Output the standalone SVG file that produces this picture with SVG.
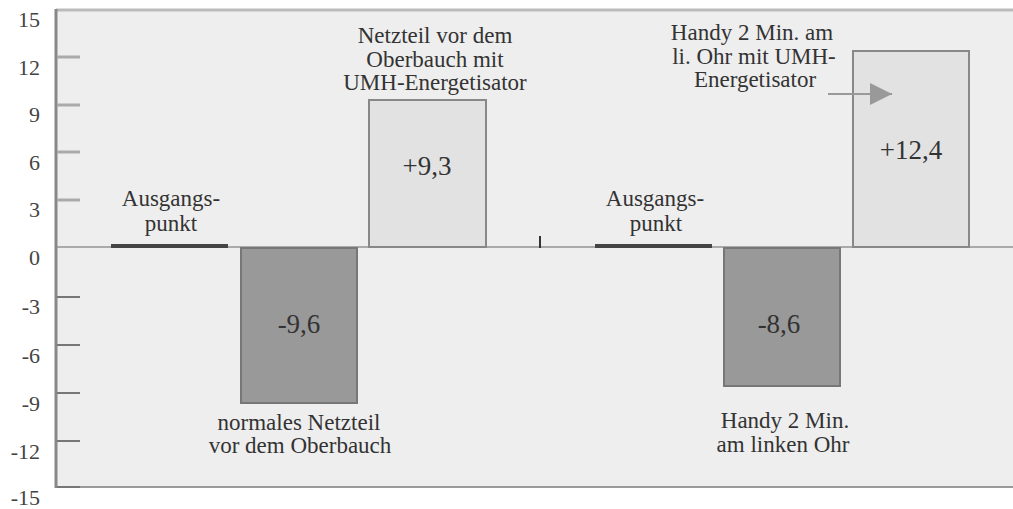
<svg xmlns="http://www.w3.org/2000/svg" width="1013" height="509" viewBox="0 0 1013 509" font-family="Times New Roman, Liberation Serif, serif">
<defs>
<marker id="ah" viewBox="0 0 10 10" refX="10" refY="5" markerWidth="22" markerHeight="22" markerUnits="userSpaceOnUse" orient="auto">
<path d="M0,0 L10,5 L0,10 z" fill="#999"/>
</marker>
</defs>
<rect x="0" y="0" width="1013" height="509" fill="#fff"/>
<g id="plot">
<rect x="56" y="10" width="957" height="477" fill="#eeeeee"/>
<line x1="56" y1="10" x2="1013" y2="10" stroke="#bbb" stroke-width="3"/>
<line x1="56" y1="487" x2="1013" y2="487" stroke="#999" stroke-width="2"/>
<line x1="56" y1="247" x2="1013" y2="247" stroke="#aaa" stroke-width="2"/>
<line x1="56" y1="9" x2="56" y2="488" stroke="#888" stroke-width="3"/>
<line x1="540" y1="236" x2="540" y2="248" stroke="#333" stroke-width="2"/>
</g>
<g id="axis">
<g stroke="#aaa" stroke-width="3">
<line x1="57" y1="57" x2="80" y2="57"/>
<line x1="57" y1="105" x2="80" y2="105"/>
<line x1="57" y1="152" x2="80" y2="152"/>
<line x1="57" y1="200" x2="80" y2="200"/>
</g>
<g stroke="#777" stroke-width="2">
<line x1="57" y1="297" x2="80" y2="297"/>
<line x1="57" y1="345" x2="80" y2="345"/>
<line x1="57" y1="393" x2="80" y2="393"/>
<line x1="57" y1="441" x2="80" y2="441"/>
<line x1="57" y1="487" x2="80" y2="487"/>
</g>
<g font-family="Times New Roman" font-size="22" text-anchor="end" fill="#444">
<text x="40" y="27">15</text>
<text x="40" y="75">12</text>
<text x="40" y="122">9</text>
<text x="40" y="170">6</text>
<text x="40" y="217">3</text>
<text x="40" y="265">0</text>
<text x="40" y="314">-3</text>
<text x="40" y="363">-6</text>
<text x="40" y="411">-9</text>
<text x="40" y="459">-12</text>
<text x="40" y="505">-15</text>
</g>
</g>
<g id="ausgang1" font-family="Times New Roman" font-size="23" text-anchor="middle" fill="#333">
<line x1="111" y1="246" x2="228" y2="246" stroke="#444" stroke-width="4"/>
<text x="171" y="206">Ausgangs-</text>
<text x="171" y="231">punkt</text>
</g>
<g id="bar-netzteil" font-family="Times New Roman" font-size="23" text-anchor="middle" fill="#333">
<rect x="241" y="248" width="116" height="155" fill="#999" stroke="#777" stroke-width="2"/>
<text font-size="27" x="299" y="333">-9,6</text>
<text x="299" y="430">normales Netzteil</text>
<text x="300" y="453">vor dem Oberbauch</text>
</g>
<g id="bar-netzteil-umh" font-family="Times New Roman" font-size="23" text-anchor="middle" fill="#333">
<rect x="369" y="100" width="117" height="147" fill="#e2e2e2" stroke="#888" stroke-width="2"/>
<text font-size="27" x="427" y="175">+9,3</text>
<text x="435" y="43">Netzteil vor dem</text>
<text x="435" y="67">Oberbauch mit</text>
<text x="435" y="90">UMH-Energetisator</text>
</g>
<g id="ausgang2" font-family="Times New Roman" font-size="23" text-anchor="middle" fill="#333">
<line x1="595" y1="246" x2="712" y2="246" stroke="#444" stroke-width="4"/>
<text x="655" y="206">Ausgangs-</text>
<text x="656" y="231">punkt</text>
</g>
<g id="bar-handy" font-family="Times New Roman" font-size="23" text-anchor="middle" fill="#333">
<rect x="724" y="248" width="116" height="138" fill="#999" stroke="#777" stroke-width="2"/>
<text font-size="27" x="779" y="333">-8,6</text>
<text x="785" y="428">Handy 2 Min.</text>
<text x="783" y="452">am linken Ohr</text>
</g>
<g id="bar-handy-umh" font-family="Times New Roman" font-size="23" text-anchor="middle" fill="#333">
<rect x="853" y="51" width="116" height="196" fill="#e2e2e2" stroke="#888" stroke-width="2"/>
<text font-size="27" x="911" y="159">+12,4</text>
<text x="752" y="40">Handy 2 Min. am</text>
<text x="754" y="64">li. Ohr mit UMH-</text>
<text x="755" y="87">Energetisator</text>
</g>
<g id="connectors">
<line x1="828" y1="94" x2="892" y2="94" stroke="#999" stroke-width="2" marker-end="url(#ah)"/>
</g>
</svg>
